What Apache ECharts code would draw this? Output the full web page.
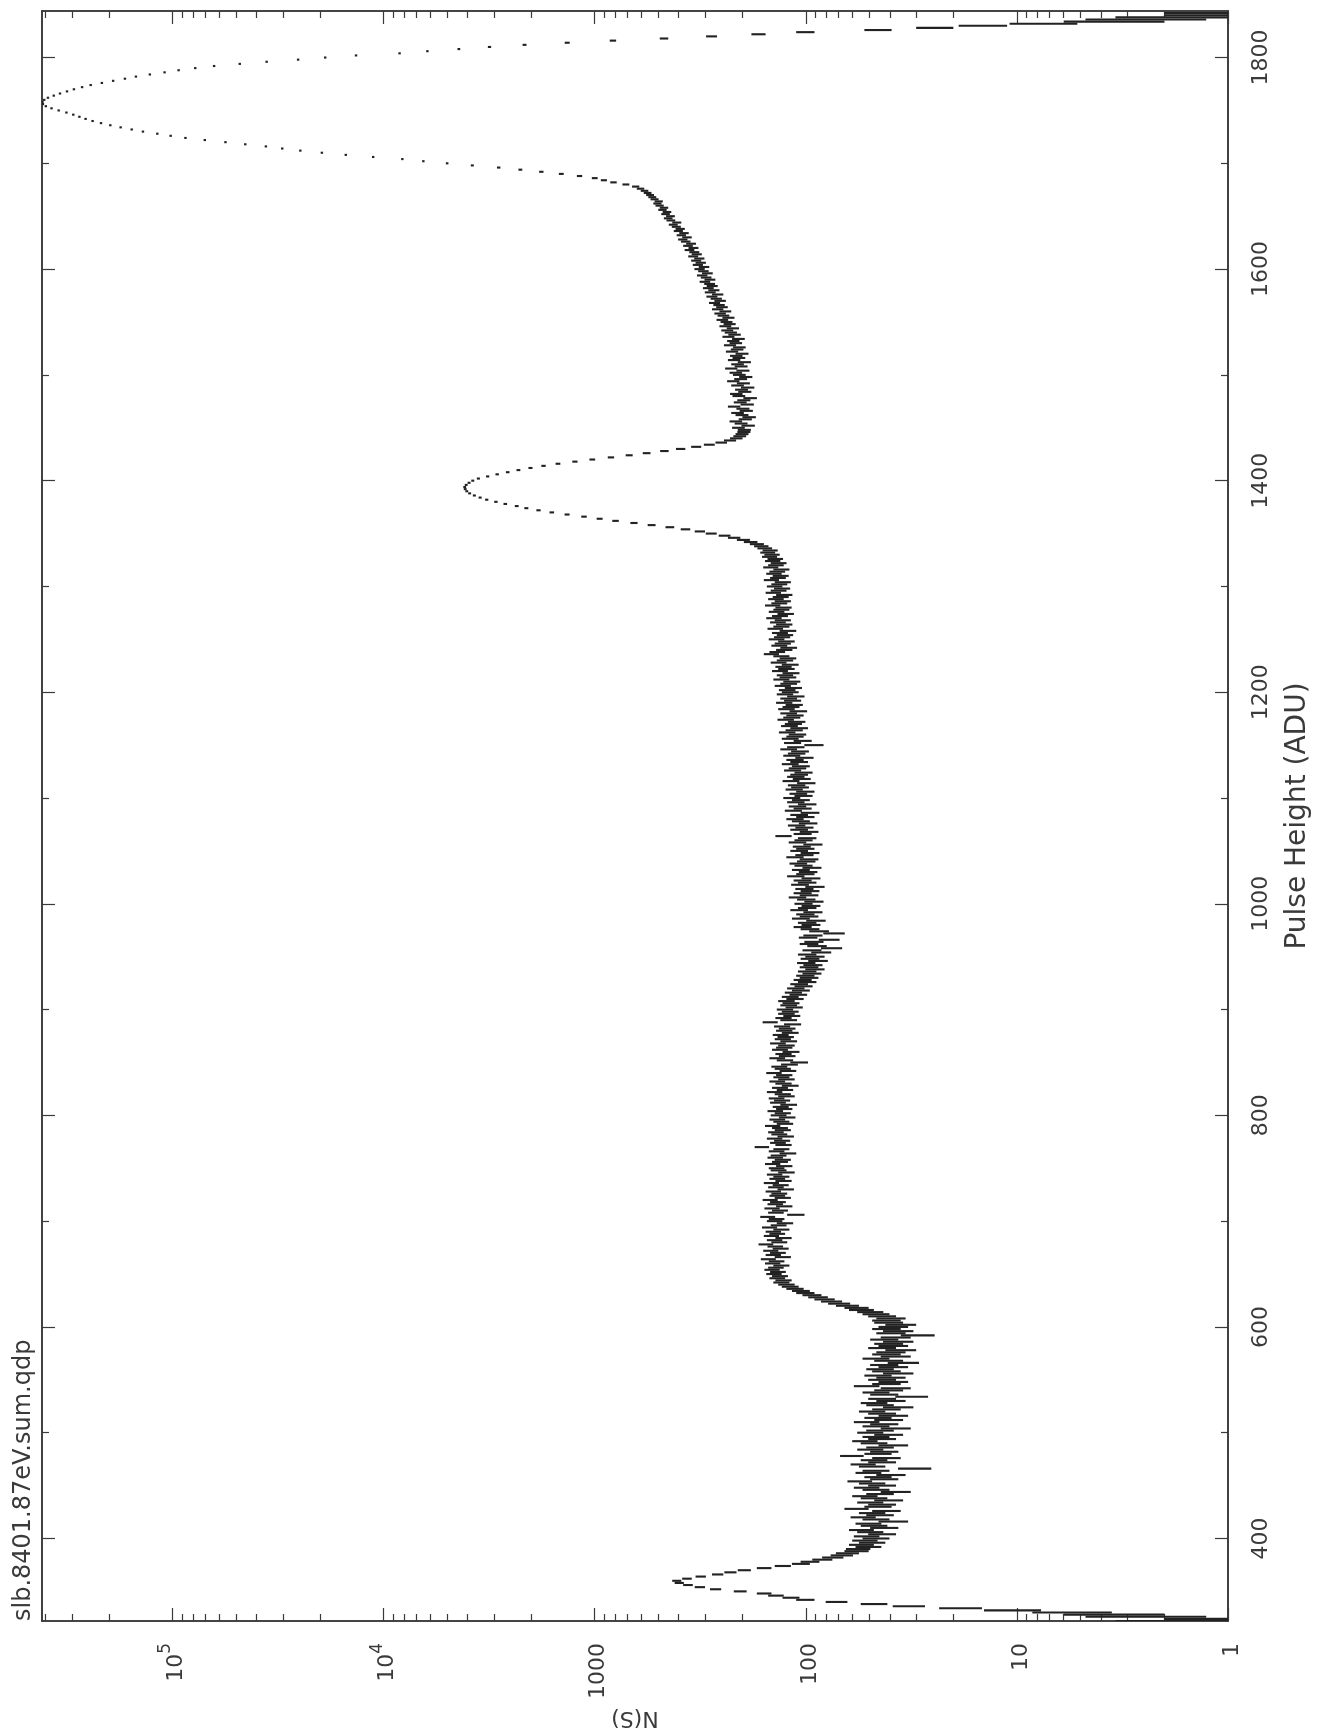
<!DOCTYPE html>
<html>
<head>
<meta charset="utf-8">
<script src="https://cdn.jsdelivr.net/npm/echarts@6/dist/echarts.min.js"></script>
<style>
html,body{margin:0;padding:0;background:#ffffff;}
#chart{width:1318px;height:1736px;}
</style>
</head>
<body>
<div id="chart"></div>
<script>
// ---------- text ----------
const titleText = 'slb.8401.87eV.sum.qdp';
const xAxisName = 'N(S)';
const yAxisName = 'Pulse Height (ADU)';

// ---------- axes ----------
const countMin = 1;
const countMax = 415000;
const pulseMin = 322;
const pulseMax = 1844;
const countTicksMajor = [1, 10, 100, 1000, 10000, 100000];
const countTickLabels = ['1', '10', '100', '1000', '10^4', '10^5'];
const countTicksMinor = [2, 3, 4, 5, 6, 7, 8, 9,
  20, 30, 40, 50, 60, 70, 80, 90,
  200, 300, 400, 500, 600, 700, 800, 900,
  2000, 3000, 4000, 5000, 6000, 7000, 8000, 9000,
  20000, 30000, 40000, 50000, 60000, 70000, 80000, 90000,
  200000, 300000, 400000];
const pulseTicksMajor = [400, 600, 800, 1000, 1200, 1400, 1600, 1800];
const pulseTickLabels = ['400', '600', '800', '1000', '1200', '1400', '1600', '1800'];
const pulseTicksMinor = [500, 700, 900, 1100, 1300, 1500, 1700];

// ---------- data: counts per bin (bins every 2 ADU) ----------
const binStep = 2;
const segLowPeakStart = 322;
const segLowPeak = [2, 1, 3, 4, 6, 11, 19, 33, 48, 72, 101, 118, 139, 158, 205, 268,
  318, 362, 398, 409, 366, 315, 262, 228, 196, 158, 129, 106, 96, 84, 75, 68];
const segShelfStart = 386;
const segShelf = [
  64, 58, 57, 51, 55, 49, 53, 47, 52, 44,
  50, 55, 43, 48, 51, 39, 47, 54, 45, 49,
  42, 58, 46, 44, 50, 41, 48, 53, 45, 38,
  47, 52, 44, 49, 56, 43, 46, 40, 51, 47,
  31, 49, 54, 44, 48, 42, 61, 46, 43, 50,
  45, 39, 48, 53, 44, 47, 41, 50, 45, 38,
  47, 43, 52, 41, 46, 39, 44, 49, 42, 37,
  45, 48, 40, 44, 32, 43, 47, 41, 38, 52,
  42, 39, 44, 40, 46, 37, 42, 45, 39, 43,
  35, 41, 47, 38, 42, 40, 36, 44, 39, 41,
  37, 43, 38, 30, 40, 37, 42, 39, 36, 41];
const segStepStart = 606;
const segStep = [42, 40, 44, 47, 50, 55, 58, 64, 70, 76,
  82, 88, 94, 101, 106, 113, 119, 124, 131, 128,
  137, 133, 142, 136, 145, 139, 131, 144];
const segPlateauAStart = 662;
const segPlateauA = [
  138, 151, 129, 143, 136, 147, 132, 140, 155, 134,
  141, 128, 146, 137, 143, 131, 149, 135, 126, 141,
  138, 152, 112, 139, 133, 145, 127, 140, 136, 148,
  129, 137, 134, 143, 125, 139, 132, 146, 128, 137,
  131, 141, 124, 135, 138, 127, 144, 133, 129, 140,
  135, 122, 138, 131, 162, 128, 136, 130, 141, 125,
  134, 139, 129, 133, 144, 126, 131, 137, 123, 135,
  129, 140, 127, 132, 121, 136, 130, 138, 124, 129,
  141, 126, 133, 119, 128, 137, 124, 131, 127, 142,
  122, 129, 134, 120, 108, 126, 137, 123, 128, 118,
  133, 127, 124, 136, 121, 129, 125, 132, 119, 127,
  123, 130, 116, 148, 121, 128, 117, 124, 119, 126,
  114, 121, 118, 124, 113, 119, 109, 115, 106, 112,
  103, 108, 99, 104, 97, 101, 94, 99, 91, 97];
const segPlateauBStart = 942;
const segPlateauB = [
  93, 100, 88, 96, 91, 99, 85, 94, 76, 89,
  97, 92, 78, 98, 93, 74, 87, 96, 104, 95,
  99, 90, 106, 97, 101, 93, 108, 99, 95, 103,
  92, 100, 110, 97, 104, 96, 102, 91, 107, 99,
  104, 95, 112, 101, 98, 106, 94, 103, 109, 100,
  97, 113, 102, 96, 108, 101, 105, 93, 110, 103,
  99, 128, 104, 97, 108, 102, 111, 98, 106, 113,
  101, 108, 96, 115, 104, 110, 99, 112, 106, 117,
  103, 109, 101, 114, 107, 111, 100, 118, 105, 112,
  108, 103, 116, 110, 106, 119, 108, 113, 102, 117,
  111, 107, 121, 112, 92, 116, 104, 119, 113, 110,
  123, 114, 108, 120, 115, 111, 125, 117, 113, 121,
  109, 124, 118, 114, 127, 116, 121, 112, 126, 119,
  123, 115, 129, 121, 117, 131, 122, 126, 118, 133,
  124, 128, 119, 135, 126, 122, 131, 146, 137, 127,
  121, 134, 129, 124, 138, 130, 126, 133, 122, 140,
  131, 127, 136, 129, 142, 133, 125, 138, 131, 128,
  144, 134, 129, 139, 132, 127, 143, 135, 130, 141,
  134, 129, 146, 136, 132, 142, 137, 131, 147, 139,
  135, 144, 140, 149, 145, 152, 148, 157, 163];
const segMidPeakStart = 1340;
const segMidPeak = [
  171, 183, 198, 219, 243, 281, 318, 372, 441, 538,
  652, 797, 948, 1124, 1352, 1597, 1846, 2108, 2341, 2652,
  2938, 3247, 3489, 3716, 3912, 4035, 4106, 4128, 4061, 3937,
  3781, 3556, 3214, 2897, 2583, 2298, 2015, 1748, 1493, 1241,
  1027, 838, 687, 568, 468, 392, 331, 287, 252, 229,
  214, 206, 201, 197];
const segRiseStart = 1448;
const segRise = [
  196, 209, 188, 203, 215, 194, 186, 201, 211, 192,
  199, 219, 190, 205, 197, 184, 208, 214, 195, 202,
  189, 211, 198, 221, 204, 193, 207, 215, 199, 226,
  203, 211, 196, 219, 208, 214, 201, 224, 212, 207,
  229, 215, 221, 209, 233, 218, 227, 236, 222, 241,
  230, 238, 249, 233, 246, 255, 241, 262, 250, 258,
  271, 255, 266, 279, 262, 284, 273, 290, 278, 286,
  301, 285, 297, 310, 293, 306, 319, 304, 325, 315,
  331, 320, 342, 329, 338, 356, 341, 362, 350, 371,
  383, 366, 389, 378, 402, 394, 411, 425, 409, 436,
  449, 438, 462, 455, 478, 470, 493, 505, 498, 521,
  534, 547, 562, 581, 607];
const segMainPeakStart = 1678;
const segMainPeak = [
  640, 712, 815, 905, 1000, 1180, 1440, 1790, 2250, 2850,
  3800, 5000, 6480, 8150, 11200, 15100, 19600, 24800, 30200, 36100,
  45200, 56100, 70300, 86800, 102000, 118000, 138000, 156000, 176000, 197000,
  218000, 239000, 258000, 276000, 295000, 318000, 346000, 374000, 398000, 411000,
  413000, 405000, 389000, 365000, 341000, 316000, 293000, 268000, 244000, 216000,
  191000, 168000, 149000, 128000, 109000, 93500, 78000, 63500, 48000, 35800,
  25400, 18900, 13500, 8400, 6200, 4400, 3150, 2150, 1350, 820,
  470, 280, 168, 101, 46, 25, 15, 8, 4, 3,
  2, 1, 1];

// ---------- styles ----------
const inkColor = '#3a3a3a';
const dataColor = '#222222';
const fontFamily = '"DejaVu Sans", "Liberation Sans", sans-serif';

const segments = [
  [segLowPeakStart, segLowPeak],
  [segShelfStart, segShelf],
  [segStepStart, segStep],
  [segPlateauAStart, segPlateauA],
  [segPlateauBStart, segPlateauB],
  [segMidPeakStart, segMidPeak],
  [segRiseStart, segRise],
  [segMainPeakStart, segMainPeak]
];
const binData = [];
segments.forEach(function (seg) {
  const start = seg[0];
  seg[1].forEach(function (n, i) { binData.push([n, start + i * binStep]); });
});

function findTick(list, v) {
  for (let i = 0; i < list.length; i++) {
    if (Math.abs(v - list[i]) <= Math.abs(list[i]) * 1e-6) return i;
  }
  return -1;
}

function countLabel(v) {
  const idx = findTick(countTicksMajor, v);
  if (idx < 0) return '';
  const lab = countTickLabels[idx];
  const parts = lab.split('^');
  if (parts.length === 2) return '{b|' + parts[0] + '}{s|' + parts[1] + '}';
  return '{b|' + lab + '}';
}

function pulseLabel(v) {
  const idx = findTick(pulseTicksMajor, v);
  return idx < 0 ? '' : pulseTickLabels[idx];
}

function countAxis(position, ticks, tickLen, withLabels) {
  return {
    type: 'log', logBase: 10, gridIndex: 0, position: position,
    min: countMin, max: countMax, inverse: true,
    axisLine: { show: true, onZero: false, lineStyle: { color: inkColor, width: 1.6 } },
    axisTick: { show: true, inside: true, length: tickLen, customValues: ticks,
      lineStyle: { color: inkColor, width: 1.2 } },
    minorTick: { show: false },
    splitLine: { show: false },
    axisLabel: withLabels ? {
      show: true, rotate: 90, margin: 22, customValues: countTicksMajor,
      formatter: countLabel,
      rich: {
        b: { fontSize: 22, fontFamily: fontFamily, color: inkColor, verticalAlign: 'bottom', lineHeight: 30 },
        s: { fontSize: 17, fontFamily: fontFamily, color: inkColor, verticalAlign: 'top', lineHeight: 30 }
      }
    } : { show: false },
    name: withLabels ? xAxisName : '',
    nameLocation: 'middle', nameRotate: 180, nameGap: 82,
    nameTextStyle: { fontSize: 22, fontFamily: fontFamily, color: inkColor }
  };
}

function pulseAxis(position, ticks, tickLen, withLabels) {
  return {
    type: 'value', gridIndex: 0, position: position,
    min: pulseMin, max: pulseMax,
    axisLine: { show: true, onZero: false, lineStyle: { color: inkColor, width: 1.6 } },
    axisTick: { show: true, inside: true, length: tickLen, customValues: ticks,
      lineStyle: { color: inkColor, width: 1.2 } },
    minorTick: { show: false },
    splitLine: { show: false },
    axisLabel: withLabels ? {
      show: true, rotate: 90, margin: 22, customValues: pulseTicksMajor,
      formatter: pulseLabel,
      fontSize: 22, fontFamily: fontFamily, color: inkColor
    } : { show: false },
    name: withLabels ? yAxisName : '',
    nameLocation: 'middle', nameRotate: 90, nameGap: 56,
    nameTextStyle: { fontSize: 28, fontFamily: fontFamily, color: inkColor }
  };
}

function renderBin(params, api) {
  const n = api.value(0);
  const p = api.value(1);
  const err = Math.sqrt(n);
  const lo = Math.max(n - err, 0.3);
  const hi = n + err;
  const yTop = api.coord([n, p + binStep / 2])[1];
  const yBot = api.coord([n, p - binStep / 2])[1];
  const xa = api.coord([hi, p])[0];
  const xb = api.coord([lo, p])[0];
  const xc = api.coord([n, p])[0];
  let x0 = Math.min(xa, xb);
  let x1 = Math.max(xa, xb);
  if (x1 - x0 < 2.4) { x0 = xc - 1.2; x1 = xc + 1.2; }
  const h = Math.abs(yBot - yTop);
  const cy = (yTop + yBot) / 2;
  const cs = params.coordSys;
  const shape = echarts.graphic.clipRectByRect(
    { x: x0, y: cy - h / 2, width: x1 - x0, height: h },
    { x: cs.x, y: cs.y, width: cs.width, height: cs.height }
  );
  if (!shape) return null;
  return { type: 'rect', shape: shape, style: { fill: dataColor } };
}

const chart = echarts.init(document.getElementById('chart'), null, { renderer: 'canvas', width: 1318, height: 1736 });
chart.setOption({
  backgroundColor: '#ffffff',
  animation: false,
  grid: { left: 42, right: 90, top: 11, bottom: 115, containLabel: false, outerBoundsMode: 'none' },
  xAxis: [
    countAxis('bottom', countTicksMajor, 13, true),
    countAxis('bottom', countTicksMinor, 7, false),
    countAxis('top', countTicksMajor, 13, false),
    countAxis('top', countTicksMinor, 7, false)
  ],
  yAxis: [
    pulseAxis('right', pulseTicksMajor, 13, true),
    pulseAxis('right', pulseTicksMinor, 7, false),
    pulseAxis('left', pulseTicksMajor, 13, false),
    pulseAxis('left', pulseTicksMinor, 7, false)
  ],
  graphic: [{
    type: 'text', x: 24, y: 1621, rotation: Math.PI / 2,
    style: { text: titleText, fill: inkColor, fontSize: 24, fontFamily: fontFamily,
      align: 'left', verticalAlign: 'middle' }
  }],
  series: [{
    type: 'custom', name: 'N(S)', xAxisIndex: 0, yAxisIndex: 0,
    renderItem: renderBin, data: binData, clip: true, silent: true
  }]
});
</script>
</body>
</html>
